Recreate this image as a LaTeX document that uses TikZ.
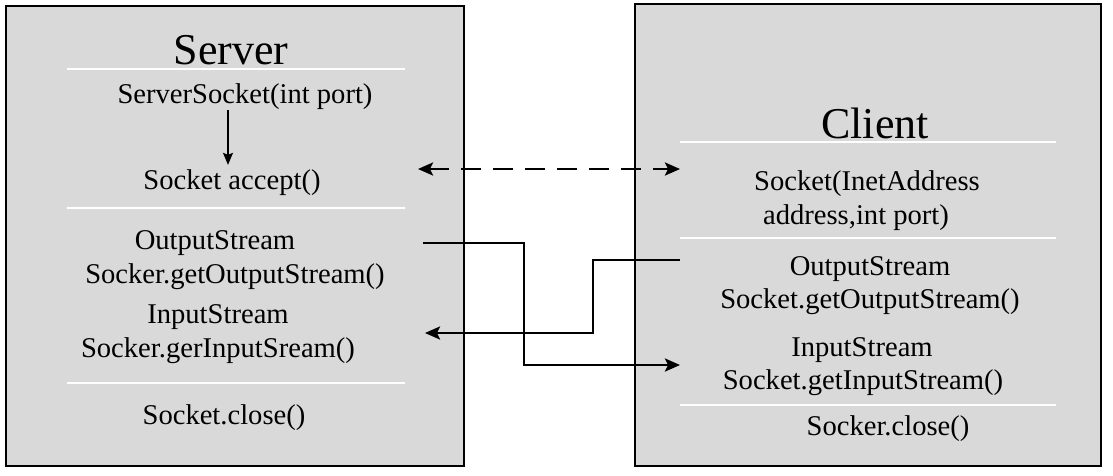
\documentclass[tikz,border=0pt]{standalone}
\usepackage{fontspec}
\setmainfont{Liberation Serif}
\usepackage{tikz}
\usetikzlibrary{positioning,arrows.meta}
\definecolor{boxgray}{RGB}{217,217,217}

\begin{document}
\begin{tikzpicture}[x=1pt, y=-1pt,
  every node/.style={inner sep=0pt, font=\fontsize{28.6}{31}\selectfont},
  title/.style={font=\fontsize{44}{48}\selectfont},
  panel/.style={draw=black, line width=1.4pt, fill=boxgray},
  sep/.style={draw=white, line width=1.8pt},
  flow/.style={line width=2.5pt, -{Stealth[length=15pt, width=13pt, inset=3pt]}},
  dflow/.style={flow, {Stealth[length=15pt, width=13pt, inset=3pt]}-{Stealth[length=15pt, width=13pt, inset=3pt]}, dash pattern=on 20pt off 12pt}]
\useasboundingbox (0,0) rectangle (1113,475);
% Kasten Server (links)
\draw[panel] (6,6) rectangle (464,466);
\draw[sep] (67,69) -- (405,69);
\draw[sep] (67,208) -- (405,208);
\draw[sep] (67,383) -- (405,383);
% Kasten Client (rechts)
\draw[panel] (635,4) rectangle (1101,466);
\draw[sep] (680,142) -- (1056,142);
\draw[sep] (680,238) -- (1056,238);
\draw[sep] (680,405) -- (1056,405);
% Texte Server
\node[title] (srv) at (231,50) {Server};
\node (ssock) at (245,97) {ServerSocket(int port)};
\node (sacc) at (232,183) {Socket accept()};
\node (sout1) at (215,243) {OutputStream};
\node (sout2) at (235,277) {Socker.getOutputStream()};
\node (sin1) at (218,317) {InputStream};
\node (sin2) at (218,351) {Socker.gerInputSream()};
\node (sclose) at (224,418) {Socket.close()};
% Texte Client
\node[title] (cli) at (875,123) {Client};
\node (csock1) at (867,184) {Socket(InetAddress};
\node (csock2) at (856,218) {address,int port)};
\node (cout1) at (870,269) {OutputStream};
\node (cout2) at (870,302) {Socket.getOutputStream()};
\node (cin1) at (862,350) {InputStream};
\node (cin2) at (863,383) {Socket.getInputStream()};
\node (cclose) at (888,429) {Socker.close()};
% Endpunkte der Verbindungen
\coordinate (sdash) at (418,169);
\coordinate (cdash) at (680,169);
\coordinate (sout) at (423,243);
\coordinate (cin) at (680,365);
\coordinate (cout) at (680,260);
\coordinate (sin) at (425,333);
% Verbindungen
\draw[line width=1.4pt, -{Stealth[length=12pt, width=10pt, inset=2pt]}, shorten >=5pt] (ssock.south -| 228,0) -- (sacc.north -| 228,0);
\draw[dflow] (sdash) -- (cdash);
\draw[flow] (sout) -- ++(101,0) |- (cin);
\draw[flow] (cout) -- ++(-87,0) |- (sin);
\end{tikzpicture}
\end{document}
